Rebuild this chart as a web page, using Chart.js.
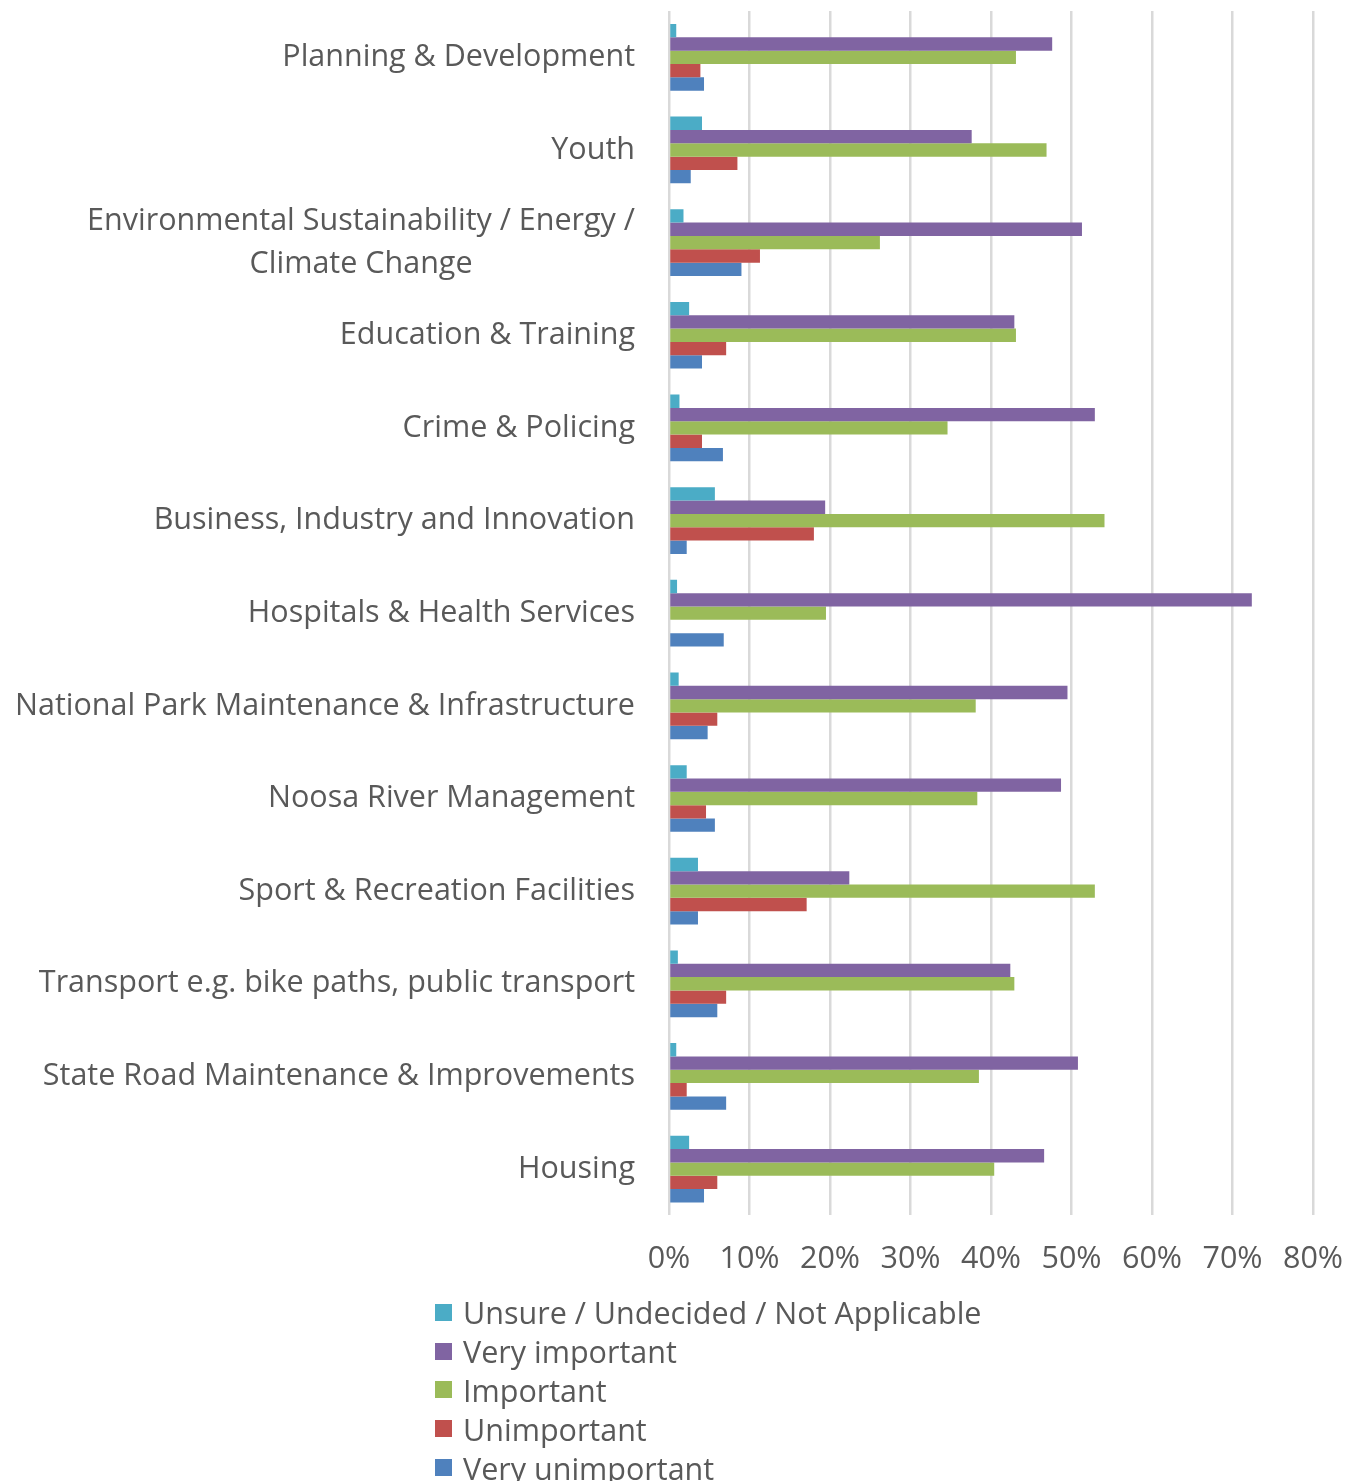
<!DOCTYPE html>
<html>
<head>
<meta charset="utf-8">
<script src="https://cdn.jsdelivr.net/npm/chart.js@4.4.1/dist/chart.umd.min.js"></script>
<style>
  html, body { margin: 0; padding: 0; background: #ffffff; }
  #wrap { position: relative; width: 1357px; height: 1481px; overflow: hidden; }
  #c { position: absolute; left: 0; top: 0; }
  #legend { position: absolute; left: 435px; top: 1293px; font-family: "Open Sans", sans-serif; font-size: 30.5px; color: #595959; }
  #legend .row { display: flex; align-items: center; height: 38.8px; white-space: nowrap; }
  #legend .box { width: 17px; height: 17px; margin-right: 11px; flex: none; }
</style>
</head>
<body>
<div id="wrap">
  <canvas id="c" width="1357" height="1316"></canvas>
  <div id="legend"></div>
</div>
<script>
const categories = [
  "Planning & Development",
  "Youth",
  ["Environmental Sustainability / Energy /", "Climate Change"],
  "Education & Training",
  "Crime & Policing",
  "Business, Industry and Innovation",
  "Hospitals & Health Services",
  "National Park Maintenance & Infrastructure",
  "Noosa River Management",
  "Sport & Recreation Facilities",
  "Transport e.g. bike paths, public transport",
  "State Road Maintenance & Improvements",
  "Housing"
];
const seriesNames = [
  "Unsure / Undecided / Not Applicable",
  "Very important",
  "Important",
  "Unimportant",
  "Very unimportant"
];
const unsure          = [0.9, 4.1, 1.8, 2.5, 1.3, 5.7, 1.0, 1.2, 2.2, 3.6, 1.1, 0.9, 2.5];
const veryImportant   = [47.6, 37.6, 51.3, 42.9, 52.9, 19.4, 72.4, 49.5, 48.7, 22.4, 42.4, 50.8, 46.6];
const important       = [43.1, 46.9, 26.2, 43.1, 34.6, 54.1, 19.5, 38.1, 38.3, 52.9, 42.9, 38.5, 40.4];
const unimportant     = [3.9, 8.5, 11.3, 7.1, 4.1, 18.0, 0.0, 6.0, 4.6, 17.1, 7.1, 2.2, 6.0];
const veryUnimportant = [4.35, 2.7, 9.0, 4.1, 6.7, 2.2, 6.8, 4.8, 5.7, 3.6, 6.0, 7.1, 4.35];
const xTicks = [0, 10, 20, 30, 40, 50, 60, 70, 80];

const colors = ["#4bacc6", "#8064a2", "#9bbb59", "#c0504d", "#4f81bd"];
const allSeries = [unsure, veryImportant, important, unimportant, veryUnimportant];

const FONT = '"Open Sans", sans-serif';
const TEXT = '#595959';
const FSIZE = 30.5;

const yLabelPlugin = {
  id: 'yLabels',
  afterDraw(chart) {
    const ctx = chart.ctx;
    const ys = chart.scales.y;
    const right = chart.chartArea.left - 34;
    ctx.save();
    ctx.font = FSIZE + 'px ' + FONT;
    ctx.fillStyle = TEXT;
    ctx.textBaseline = 'middle';
    const lineH = 43;
    categories.forEach((lab, i) => {
      const yc = ys.getPixelForValue(i);
      const lines = Array.isArray(lab) ? lab : [lab];
      if (lines.length === 1) {
        ctx.textAlign = 'right';
        ctx.fillText(lines[0], right, yc);
      } else {
        const w = Math.max(...lines.map(l => ctx.measureText(l).width));
        const cx = right - w / 2;
        ctx.textAlign = 'center';
        const start = yc - (lines.length - 1) * lineH / 2;
        lines.forEach((l, k) => ctx.fillText(l, cx, start + k * lineH));
      }
    });
    ctx.restore();
  }
};

new Chart(document.getElementById('c'), {
  type: 'bar',
  data: {
    labels: categories,
    datasets: allSeries.map((d, i) => ({
      label: seriesNames[i],
      data: d,
      backgroundColor: colors[i],
      borderWidth: 0,
      categoryPercentage: 0.72,
      barPercentage: 1.0
    }))
  },
  options: {
    indexAxis: 'y',
    responsive: false,
    animation: false,
    layout: { padding: { left: 669, right: 44, top: 11, bottom: 12 } },
    plugins: { legend: { display: false }, tooltip: { enabled: false } },
    scales: {
      x: {
        min: 0, max: 80,
        afterBuildTicks(scale) { scale.ticks = xTicks.map(v => ({ value: v })); },
        afterFit(scale) { scale.paddingLeft = 0; scale.paddingRight = 0; },
        ticks: {
          callback: v => v + '%',
          font: { family: FONT, size: FSIZE },
          color: TEXT,
          padding: 26,
          maxRotation: 0
        },
        grid: { color: '#d9d9d9', lineWidth: 2.5, drawTicks: false },
        border: { display: false }
      },
      y: {
        afterFit(scale) { scale.width = 0; },
        ticks: { display: false },
        grid: { display: false },
        border: { display: false }
      }
    }
  },
  plugins: [yLabelPlugin]
});

const legend = document.getElementById('legend');
seriesNames.forEach((n, i) => {
  const row = document.createElement('div');
  row.className = 'row';
  const box = document.createElement('span');
  box.className = 'box';
  box.style.background = colors[i];
  const t = document.createElement('span');
  t.textContent = n;
  row.appendChild(box);
  row.appendChild(t);
  legend.appendChild(row);
});
</script>
</body>
</html>
